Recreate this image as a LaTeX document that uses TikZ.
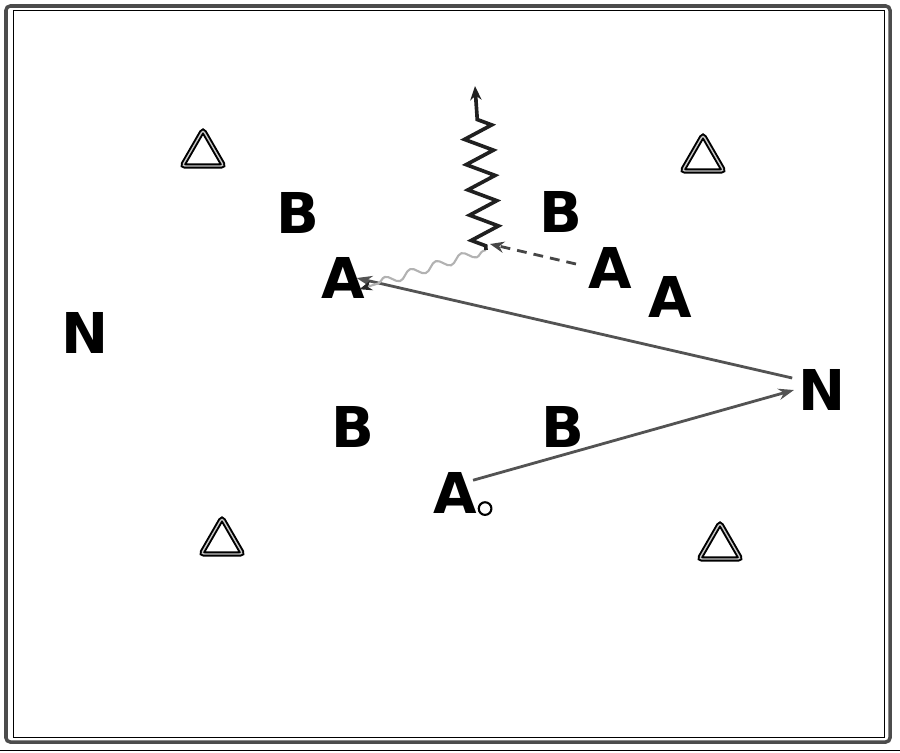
\documentclass[tikz,border=0pt]{standalone}
\usepackage{fontspec}
\setmainfont{DejaVu Sans}
\usetikzlibrary{arrows.meta,decorations.pathmorphing,positioning,shapes.geometric}

\begin{document}
\begin{tikzpicture}[x=0.025cm,y=-0.025cm]
            \tikzstyle{player} = [font=\fontsize{40}{40}\selectfont\bfseries, inner sep=0pt]
            \tikzstyle{cone} = [draw, regular polygon, regular polygon sides=3, line width=1.4pt, double=gray!45, double distance=1pt, rounded corners=2pt, minimum size=1.2cm, inner sep=0pt]
            \tikzstyle{pass} = [draw=gray!65!black, line width=2pt, -{Stealth[length=11pt,width=8pt]}]
            \tikzstyle{run} = [draw=gray!55!black, line width=2pt, dash pattern=on 7pt off 5pt, -{Stealth[length=10pt,width=8pt]}]

            \useasboundingbox (0,0) rectangle (900,752);
            \draw[gray!60!black, line width=2.5pt, rounded corners=3pt] (6,6) rectangle (890,742);
            \draw[black, line width=0.7pt] (13,10) rectangle (884,737);
            \draw[black, line width=0.7pt] (0,750) -- (900,750);

            \node [cone] (c1) at (203,154) {};
            \node [cone] (c2) at (703,159) {};
            \node [cone] (c3) at (222,542) {};
            \node [cone] (c4) at (720,547) {};

            \node [player] (b1) at (298,213) {B};
            \node [player] (b2) at (561,212) {B};
            \node [player] (b3) at (353,427) {B};
            \node [player] (b4) at (563,427) {B};

            \node [player] (n1) at (85,333) {N};
            \node [player] (n2) at (822,390) {N};

            \node [player] (a1) at (343,278) {A};
            \node [player] (a2) at (610,268) {A};
            \node [player] (a3) at (670,297) {A};
            \node [player] (a4) at (455,493) {A};
            \node [draw, circle, line width=1.5pt, minimum size=9pt, inner sep=0pt, right = 2pt of a4.south east, anchor=south west] (ball) {};

            \coordinate (turn) at (486,250);
            \coordinate (top) at (475,86);
            \coordinate (meet) at (490,244);

            \draw [pass] ([shift={(-4,8)}]a4.north east) -- ([xshift=-3pt]n2.west);
            \draw [pass] ([shift={(-6,-12)}]n2.west) -- ([xshift=-6pt]a1.east);
            \draw [run] ([shift={(-12,-4)}]a2.west) -- (meet);
            \draw [draw=gray!60, line width=1.5pt, decorate, decoration={snake, amplitude=3pt, segment length=19pt, pre length=2pt, post length=12pt}, -{Stealth[length=9pt,width=7pt,gray!30!black]}] (turn) -- ([xshift=-4pt,yshift=-8pt]a1.east);
            \draw [draw=gray!25!black, line width=2.6pt, decorate, decoration={zigzag, amplitude=10pt, segment length=18pt, pre length=3pt, post length=22pt}, -{Stealth[length=10pt,width=8pt]}] (turn) -- (top);
\end{tikzpicture}
\end{document}
